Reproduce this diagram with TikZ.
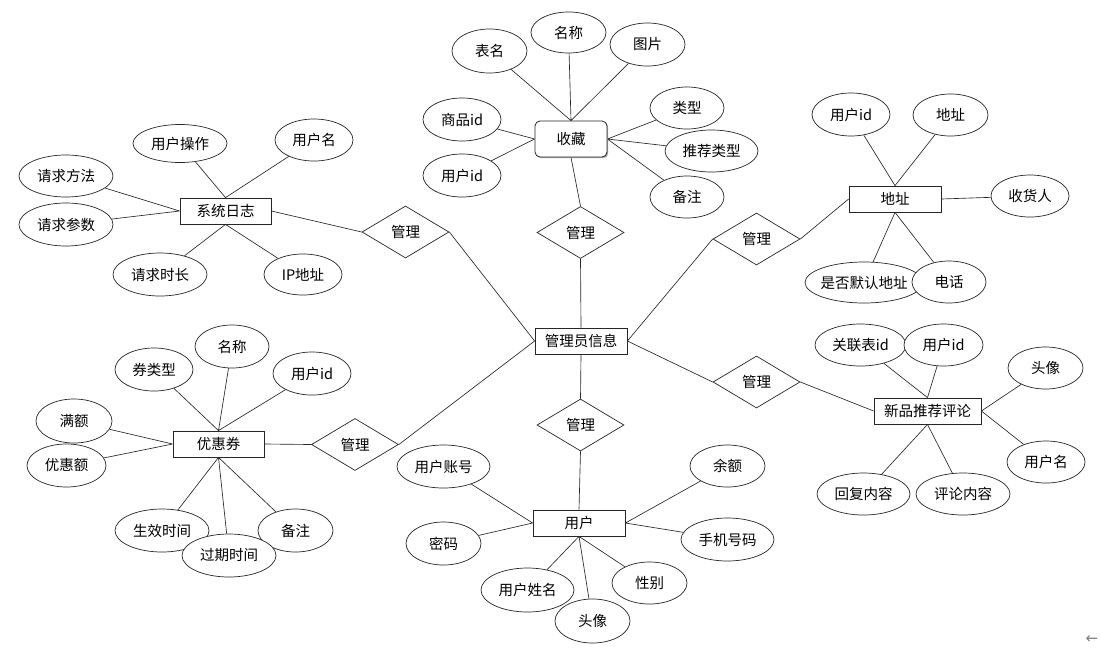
\documentclass[tikz,border=0pt]{standalone}
\usepackage{fontspec}
\setmainfont{Noto Sans CJK SC}
\newfontfamily\djv{DejaVu Sans}
\usetikzlibrary{shapes.geometric,shadows,backgrounds}
\newcommand\zw[1]{\makebox[0pt]{#1}}
\tikzset{
  every node/.style={font=\fontsize{14.5pt}{17pt}\selectfont},
  attr/.style={ellipse, draw=black!85, fill=white, line width=0.7pt, inner sep=0pt, minimum width=76pt, minimum height=43pt},
  ent/.style={rectangle, draw=black!85, fill=white, line width=0.8pt, inner sep=0pt, minimum height=26pt,
    drop shadow={shadow xshift=1.2pt, shadow yshift=-1.2pt, fill=black!35, opacity=1}},
  rel/.style={diamond, draw=black!85, fill=white, line width=0.7pt, aspect=1.67, inner sep=0pt, minimum width=87pt, minimum height=52pt},
  conn/.style={draw=black!85, line width=0.65pt}
}
\begin{document}
\begin{tikzpicture}[x=1pt,y=-1pt]
\useasboundingbox (0,0) rectangle (1100,651);
% central
\node[ent, minimum width=92pt] (gl) at (581,341) {管理员信息};
% relationships
\node[rel] (m1) at (405.5,232) {管理};
\node[rel] (m2) at (580.5,232.5) {管理};
\node[rel] (m3) at (756.5,239) {管理};
\node[rel] (m4) at (756.5,382) {管理};
\node[rel] (m5) at (580.5,425) {管理};
\node[rel] (m6) at (355,444.5) {管理};
% system log
\node[ent, minimum width=91pt] (xt) at (225.5,211) {系统日志};
\node[attr, minimum width=94pt, minimum height=38pt] (a1) at (180,143.5) {\zw{用户操作}};
\node[attr, minimum width=78pt, minimum height=42pt] (a2) at (314,140) {\zw{用户名}};
\node[attr, minimum width=94pt, minimum height=42pt] (a3) at (66,176) {\zw{请求方法}};
\node[attr, minimum width=94pt] (a4) at (66,224.5) {\zw{请求参数}};
\node[attr, minimum width=94pt] (a5) at (160,274.5) {\zw{请求时长}};
\node[attr, minimum width=78pt, minimum height=41pt] (a6) at (303,274.5) {\zw{IP地址}};
% collection
\node[ent, rounded corners=5pt, minimum width=72pt, minimum height=36pt] (sc) at (571,139) {收藏};
\node[attr, minimum width=75pt, minimum height=44pt] (b1) at (489.5,51) {\zw{表名}};
\node[attr, minimum width=75pt, minimum height=41pt] (b2) at (568.5,32.5) {\zw{名称}};
\node[attr, minimum width=75pt] (b3) at (647.5,44.5) {\zw{图片}};
\node[attr, minimum width=78pt] (b4) at (462,119.5) {\zw{商品id}};
\node[attr, minimum width=78pt] (b5) at (462,175.5) {\zw{用户id}};
\node[attr, minimum width=74pt, minimum height=42pt] (b6) at (687,108) {\zw{类型}};
\node[attr, minimum width=93pt, minimum height=42pt] (b7) at (711.5,151) {\zw{推荐类型}};
\node[attr, minimum width=74pt, minimum height=42pt] (b8) at (687,197) {\zw{备注}};
% address
\node[ent, minimum width=92pt] (dz) at (895,199) {地址};
\node[attr, minimum width=78pt] (c1) at (851,114.5) {\zw{用户id}};
\node[attr, minimum width=75pt, minimum height=42pt] (c2) at (950.5,115) {\zw{地址}};
\node[attr, minimum width=78pt, minimum height=42pt] (c3) at (1030,196) {\zw{收货人}};
\node[attr, minimum width=118pt, minimum height=41pt] (c4) at (864,282.5) {\zw{是否默认地址}};
\node[attr, minimum width=74pt, minimum height=42pt] (c5) at (949,282) {\zw{电话}};
% comments
\node[ent, minimum width=107pt] (pl) at (927.5,411) {新品推荐评论};
\node[attr, minimum width=91pt, minimum height=42pt] (d1) at (860.5,345) {\zw{关联表id}};
\node[attr, minimum width=79pt, minimum height=42pt] (d2) at (943.5,345) {\zw{用户id}};
\node[attr, minimum width=75pt, minimum height=42pt] (d3) at (1045.5,368) {\zw{头像}};
\node[attr, minimum width=78pt, minimum height=42pt] (d4) at (1046,462) {\zw{用户名}};
\node[attr, minimum width=93pt, minimum height=42pt] (d5) at (863.5,494) {\zw{回复内容}};
\node[attr, minimum width=94pt, minimum height=42pt] (d6) at (963,494) {\zw{评论内容}};
% user
\node[ent, minimum width=92pt] (yh) at (579,523) {用户};
\node[attr, minimum width=93pt] (e1) at (443.5,466.5) {\zw{用户账号}};
\node[attr, minimum width=75pt, minimum height=42pt] (e2) at (727.5,466) {\zw{余额}};
\node[attr, minimum width=75pt] (e3) at (443.5,543.5) {\zw{密码}};
\node[attr, minimum width=93pt] (e4) at (727.5,539.5) {\zw{手机号码}};
\node[attr, minimum width=93pt, minimum height=44pt] (e5) at (527.5,590) {\zw{用户姓名}};
\node[attr, minimum width=75pt, minimum height=44pt] (e6) at (592.5,621) {\zw{头像}};
\node[attr, minimum width=75pt, minimum height=42pt] (e7) at (649.5,583) {\zw{性别}};
% coupon
\node[ent, minimum width=91pt] (yq) at (218.5,444) {优惠券};
\node[attr, minimum width=78pt] (f1) at (154,369.5) {\zw{券类型}};
\node[attr, minimum width=74pt] (f2) at (232,346.5) {\zw{名称}};
\node[attr, minimum width=78pt] (f3) at (312,373.5) {\zw{用户id}};
\node[attr, minimum width=76pt, minimum height=44pt] (f4) at (74,421) {\zw{满额}};
\node[attr, minimum width=79pt] (f5) at (66.5,465.5) {\zw{优惠额}};
\node[attr, minimum width=94pt] (f6) at (162,530.5) {\zw{生效时间}};
\node[attr, minimum width=75pt] (f7) at (295.5,530.5) {\zw{备注}};
\node[attr, minimum width=94pt] (f8) at (229,555.5) {\zw{过期时间}};
% scroll mark
\node[text=black!50, font=\djv\fontsize{15pt}{16pt}\selectfont] (sm) at (1092,640) {←};
\begin{scope}[on background layer]
  \draw[conn] (gl.west) -- (m1.east) (m1.west) -- (xt.east);
  \draw[conn] (gl.north) -- (m2.south) (m2.north) -- (sc.south);
  \draw[conn] (gl.east) -- (m3.west) (m3.east) -- (dz.west);
  \draw[conn] (gl.east) -- (m4.west) (m4.east) -- (pl.west);
  \draw[conn] (gl.south) -- (m5.north) (m5.south) -- (yh.north);
  \draw[conn] (gl.west) -- (m6.east) (m6.west) -- (yq.east);
  \draw[conn] (a1) -- (xt.north) (a2) -- (xt.north) (a3) -- (xt.west) (a4) -- (xt.west) (a5) -- (xt.south) (a6) -- (xt.south);
  \draw[conn] (b1) -- (sc.north) (b2) -- (sc.north) (b3) -- (sc.north) (b4) -- (sc.west) (b5) -- (sc.west) (b6) -- (sc.east) (b7) -- (sc.east) (b8) -- (sc.east);
  \draw[conn] (c1) -- (dz.north) (c2) -- (dz.north) (c3) -- (dz.east) (c4) -- (dz.south) (c5) -- (dz.south);
  \draw[conn] (d1) -- (pl.north) (d2) -- (pl.north) (d3) -- (pl.east) (d4) -- (pl.east) (d5) -- (pl.south) (d6) -- (pl.south);
  \draw[conn] (e1) -- (yh.west) (e3) -- (yh.west) (e2) -- (yh.east) (e4) -- (yh.east) (e5) -- (yh.south) (e6) -- (yh.south) (e7) -- (yh.south);
  \draw[conn] (f1) -- (yq.north) (f2) -- (yq.north) (f3) -- (yq.north) (f4) -- (yq.west) (f5) -- (yq.west) (f6) -- (yq.south) (f7) -- (yq.south) (f8) -- (yq.south);
\end{scope}
\end{tikzpicture}
\end{document}
